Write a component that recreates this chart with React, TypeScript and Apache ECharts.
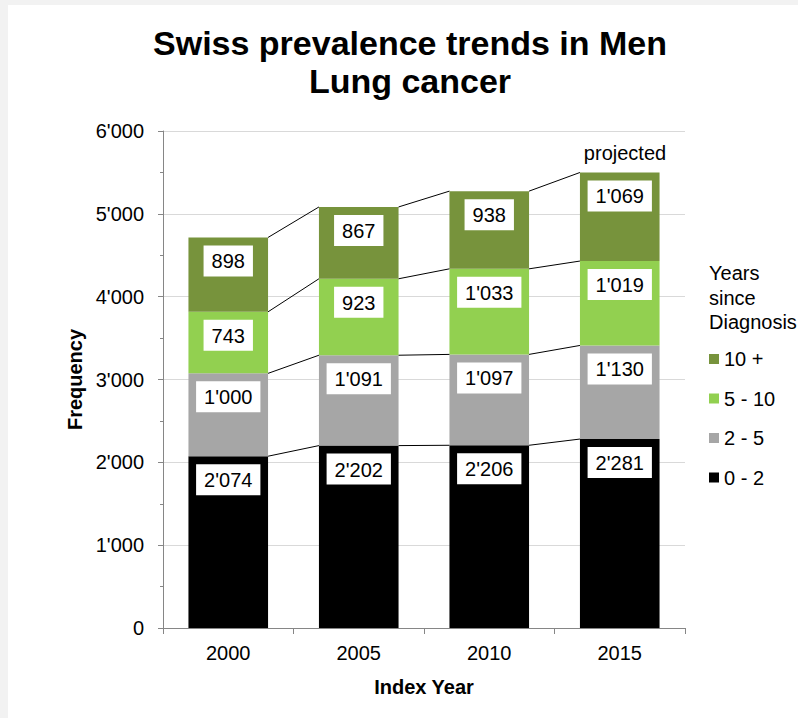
import React, { useEffect, useRef } from 'react';
import * as echarts from 'echarts';

const categories = ['2000', '2005', '2010', '2015'];
const names = ['0 - 2', '2 - 5', '5 - 10', '10 +'];
const v0to2 = [2074, 2202, 2206, 2281];
const v2to5 = [1000, 1091, 1097, 1130];
const v5to10 = [743, 923, 1033, 1019];
const v10plus = [898, 867, 938, 1069];
const colors = ['#000000', '#a6a6a6', '#92d050', '#77933c'];
const legendOrder = ['10 +', '5 - 10', '2 - 5', '0 - 2'];
const titleText = 'Swiss prevalence trends in Men\nLung cancer';
const legendTitle = 'Years\nsince\nDiagnosis';
const projectedText = 'projected';

const FONT = '"Liberation Sans", Arial, sans-serif';
const BAR_RATIO = 0.61;

const fmt = (v: number) => String(v).replace(/\B(?=(\d{3})+(?!\d))/g, "'");

export default function App() {
  const ref = useRef<HTMLDivElement>(null);
  useEffect(() => {
    if (!ref.current) return;
    const chart = echarts.init(ref.current, undefined, { renderer: 'svg' });
    const all = [v0to2, v2to5, v5to10, v10plus];
    const cum: number[][] = [];
    all.forEach((arr, k) => {
      cum.push(arr.map((v, i) => v + (k > 0 ? cum[k - 1][i] : 0)));
    });
    const connectorData: number[][] = [];
    cum.forEach((lvl) => {
      for (let i = 0; i < lvl.length - 1; i++) connectorData.push([i, lvl[i], lvl[i + 1]]);
    });

    const barSeries = all.map((arr, k) => ({
      name: names[k],
      type: 'bar',
      stack: 'total',
      barWidth: BAR_RATIO * 100 + '%',
      itemStyle: { color: colors[k] },
      data: arr,
      label: {
        show: true,
        position: 'insideTop',
        distance: 8,
        formatter: (p: any) => fmt(p.value),
        backgroundColor: '#ffffff',
        color: '#000',
        fontSize: 20,
        fontFamily: FONT,
        lineHeight: 20,
        padding: [6, 8, 5, 8],
      },
    }));

    chart.setOption({
      animation: false,
      backgroundColor: '#ffffff',
      grid: { left: 155, top: 126, right: 113, bottom: 90 },
      legend: {
        data: legendOrder,
        orient: 'vertical',
        left: 701,
        top: 344,
        padding: 0,
        itemWidth: 10,
        itemHeight: 10,
        itemGap: 19.5,
        icon: 'rect',
        selectedMode: false,
        textStyle: { fontSize: 20, color: '#000', fontFamily: FONT, lineHeight: 20 },
      },
      xAxis: {
        type: 'category',
        data: categories,
        name: 'Index Year',
        nameLocation: 'middle',
        nameGap: 49,
        nameTextStyle: { fontSize: 20, fontWeight: 'bold', color: '#000', fontFamily: FONT },
        axisLine: { lineStyle: { color: '#868686', width: 1 } },
        axisTick: { show: true, length: 6, lineStyle: { color: '#868686' } },
        axisLabel: { margin: 15, fontSize: 20, color: '#000', fontFamily: FONT },
        splitLine: { show: false },
      },
      yAxis: {
        type: 'value',
        min: 0,
        max: 6000,
        interval: 1000,
        name: 'Frequency',
        nameLocation: 'middle',
        nameGap: 70,
        nameTextStyle: { fontSize: 20, fontWeight: 'bold', color: '#000', fontFamily: FONT },
        axisLine: { show: true, lineStyle: { color: '#868686', width: 1 } },
        axisTick: { show: true, length: 5, lineStyle: { color: '#868686' } },
        minorTick: { show: true, splitNumber: 2, length: 3, lineStyle: { color: '#868686' } },
        axisLabel: { margin: 19, fontSize: 20, color: '#000', fontFamily: FONT, formatter: (v: number) => fmt(v) },
        splitLine: { show: true, lineStyle: { color: '#d9d9d9', width: 1 } },
      },
      series: [
        ...barSeries,
        {
          type: 'custom',
          name: 'connectors',
          silent: true,
          z: 3,
          encode: { x: 0, y: 1 },
          data: connectorData,
          renderItem: (params: any, api: any) => {
            const i = api.value(0);
            const a = api.coord([i, api.value(1)]);
            const b = api.coord([i + 1, api.value(2)]);
            const bw = api.size([1, 0])[0] * BAR_RATIO;
            return {
              type: 'line',
              shape: { x1: a[0] + bw / 2, y1: a[1], x2: b[0] - bw / 2, y2: b[1] },
              style: { stroke: '#000', lineWidth: 1 },
            };
          },
        },
      ],
      graphic: [
        {
          type: 'text',
          x: 402,
          y: 19,
          style: {
            text: titleText,
            align: 'center',
            textAlign: 'center',
            verticalAlign: 'top',
            textVerticalAlign: 'top',
            fontSize: 34,
            fontWeight: 'bold',
            fontFamily: FONT,
            lineHeight: 38,
            fill: '#000',
          },
        },
        {
          type: 'text',
          x: 701,
          y: 256,
          style: {
            text: legendTitle,
            fontSize: 20,
            fontFamily: FONT,
            lineHeight: 24.5,
            fill: '#000',
            verticalAlign: 'top',
            textVerticalAlign: 'top',
          },
        },
        {
          type: 'text',
          x: 617,
          y: 138,
          style: {
            text: projectedText,
            align: 'center',
            textAlign: 'center',
            verticalAlign: 'top',
            textVerticalAlign: 'top',
            fontSize: 20,
            fontFamily: FONT,
            fill: '#000',
          },
        },
      ],
    });
    return () => chart.dispose();
  }, []);
  return (
    <div style={{ position: 'fixed', left: 0, top: 0, width: 798, height: 718, background: '#f2f2f2' }}>
      <div ref={ref} style={{ position: 'absolute', left: 8, top: 5, width: 790, height: 713, background: '#fff' }} />
    </div>
  );
}
